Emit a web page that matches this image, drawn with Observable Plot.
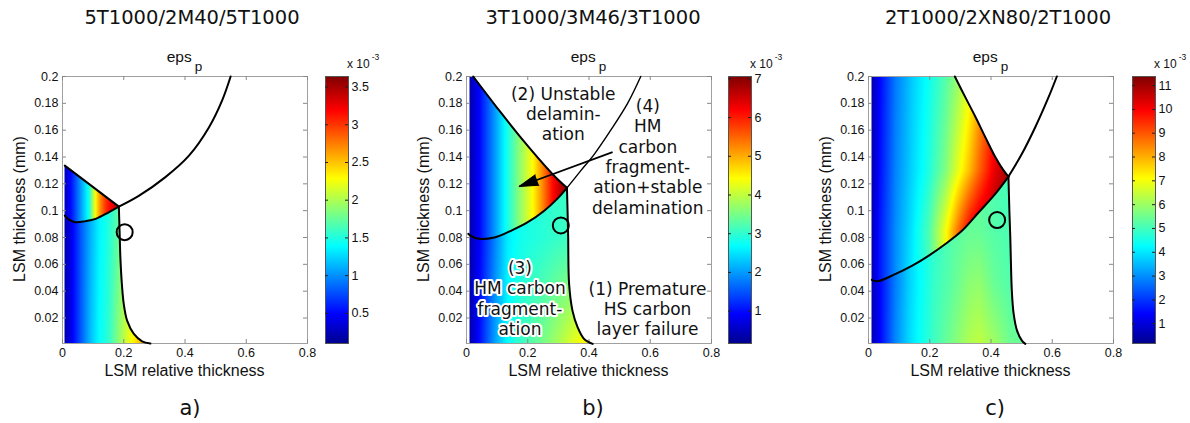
<!DOCTYPE html>
<html><head><meta charset="utf-8">
<script src="https://cdn.jsdelivr.net/npm/d3@7"></script>
<script src="https://cdn.jsdelivr.net/npm/@observablehq/plot@0.6"></script>
<style>
body{margin:0;background:#fff;}
#root{position:relative;width:1190px;height:423px;overflow:hidden;background:#fff;}
.abs{position:absolute;white-space:nowrap;line-height:1;}
.title{font-family:"DejaVu Sans";font-size:19.5px;color:#111;transform:translate(-50%,-50%);}
.letter{font-family:"DejaVu Sans";font-size:21px;color:#111;transform:translate(-50%,-50%);}
.eps{font-family:"Liberation Sans",Arial;font-size:15.5px;color:#111;transform:translate(-50%,-50%);}
.xlab{font-family:"Liberation Sans",Arial;font-size:16px;color:#111;transform:translate(-50%,-50%);}
.ylab{font-family:"Liberation Sans",Arial;font-size:16px;color:#111;transform:translate(-50%,-50%) rotate(-90deg);}
.exp{font-family:"Liberation Sans",Arial;font-size:12px;color:#111;}
.svgbox svg{max-width:none;background:transparent;}
</style></head>
<body><div id="root"></div>
<script>
// ---------- shared tick values & texts ----------
const xTicks = [0, 0.2, 0.4, 0.6, 0.8];
const yTicks = [0.02, 0.04, 0.06, 0.08, 0.1, 0.12, 0.14, 0.16, 0.18, 0.2];
const titles = ["5T1000/2M40/5T1000", "3T1000/3M46/3T1000", "2T1000/2XN80/2T1000"];
const letters = ["a)", "b)", "c)"];
const xLabel = "LSM relative thickness";
const yLabel = "LSM thickness (mm)";

// ---------- colorbars (units of 1e-3) ----------
const aCbDomain = [0.10, 3.64];
const aCbTicks = [0.5, 1, 1.5, 2, 2.5, 3, 3.5];
const bCbDomain = [0.165, 7.06];
const bCbTicks = [1, 2, 3, 4, 5, 6, 7];
const cCbDomain = [0.17, 11.38];
const cCbTicks = [1, 2, 3, 4, 5, 6, 7, 8, 9, 10, 11];

// ---------- panel a boundaries ----------
const aUL = [[0.0075, 0.1336], [0.184, 0.103]];
const aIC = [[0.0075, 0.0963], [0.02, 0.0935], [0.042, 0.0914], [0.075, 0.0922], [0.108, 0.0939], [0.151, 0.0988], [0.184, 0.103]];
const aRB = [[0.184, 0.103], [0.187, 0.08], [0.189, 0.065], [0.194, 0.045], [0.2, 0.0305], [0.211, 0.018], [0.233, 0.0081], [0.26, 0.0026], [0.287, 0.001]];
const aUR = [[0.184, 0.103], [0.249, 0.111], [0.336, 0.125], [0.413, 0.141], [0.478, 0.162], [0.521, 0.182], [0.549, 0.2]];
const aCircle = [[0.203, 0.084]];
// panel a field
const aUpperX = [0.0075, 0.032, 0.064, 0.086, 0.097, 0.108, 0.124, 0.14, 0.157, 0.173, 0.185];
const aUpperV = [0.25, 0.6, 1.1, 1.45, 1.9, 2.3, 2.7, 3.0, 3.2, 3.35, 3.45];
const aLowerX = [0.0075, 0.03, 0.06, 0.09, 0.12, 0.15, 0.18, 0.21, 0.24, 0.27, 0.29];
const aLowerY = [0.001, 0.1];
const aLowerV = [
  [0.2, 0.45, 0.8, 1.15, 1.4, 1.55, 1.85, 2.15, 2.4, 2.65, 2.8],
  [0.2, 0.45, 0.8, 1.1, 1.35, 1.5, 1.7, 1.9, 2.1, 2.3, 2.4]
];

// ---------- panel b boundaries ----------
const bUL = [[0.022, 0.2], [0.1, 0.1767], [0.187, 0.1518], [0.282, 0.127], [0.328, 0.117]];
const bIC = [[0.006, 0.0827], [0.02, 0.0805], [0.042, 0.079], [0.091, 0.080], [0.145, 0.085], [0.2, 0.0914], [0.254, 0.100], [0.297, 0.109], [0.328, 0.117]];
const bRB = [[0.328, 0.117], [0.33, 0.1], [0.332, 0.08], [0.335, 0.0454], [0.346, 0.0255], [0.363, 0.013], [0.384, 0.0044], [0.412, 0.0007]];
const bUR = [[0.328, 0.117], [0.374, 0.13], [0.417, 0.142], [0.471, 0.16], [0.526, 0.18], [0.569, 0.2]];
const bCircle = [[0.308, 0.089]];
// panel b field
const bUpperX = [0.0093, 0.04, 0.084, 0.127, 0.171, 0.215, 0.247, 0.28, 0.31, 0.33];
const bUpperV = [0.35, 0.9, 1.8, 2.7, 3.6, 4.4, 5.2, 6.1, 6.7, 6.9];
const bLowerX = [0.0093, 0.047, 0.091, 0.134, 0.167, 0.2, 0.25, 0.3, 0.35, 0.41];
const bLowerY = [0.001, 0.08];
const bLowerV = [
  [0.35, 1.1, 2.0, 2.7, 3.0, 3.2, 3.5, 3.85, 4.25, 4.6],
  [0.35, 1.0, 1.8, 2.55, 2.75, 2.85, 2.95, 3.05, 3.1, 3.15]
];
// panel b annotations
const bNotes = [
  {x: 0.316, y: 0.1724, text: "(2) Unstable\ndelamin-\nation"},
  {x: 0.592, y: 0.1406, text: "(4)\nHM\ncarbon\nfragment-\nation+stable\ndelamination"},
  {x: 0.591, y: 0.0271, text: "(1) Premature\nHS carbon\nlayer failure"}
];
const bHaloNotes = [
  {x: 0.1745, y: 0.035, text: "(3)\nHM carbon\nfragment-\nation"}
];
const bArrow = [{x1: 0.477, y1: 0.1436, x2: 0.172, y2: 0.118}];

// ---------- panel c boundaries ----------
const cUL = [[0.282, 0.2], [0.316, 0.1846], [0.349, 0.170], [0.381, 0.155], [0.414, 0.14], [0.441, 0.130], [0.457, 0.1254]];
const cIC = [[0.011, 0.0484], [0.029, 0.0474], [0.089, 0.0529], [0.143, 0.059], [0.197, 0.0665], [0.251, 0.0752], [0.306, 0.0852], [0.36, 0.0988], [0.414, 0.1125], [0.457, 0.1254]];
const cRB = [[0.457, 0.1254], [0.46, 0.1], [0.463, 0.08], [0.468, 0.0404], [0.474, 0.023], [0.485, 0.0106], [0.501, 0.0031], [0.512, 0.0007]];
const cUR = [[0.457, 0.1254], [0.501, 0.1424], [0.544, 0.162], [0.588, 0.1846], [0.615, 0.2]];
const cCircle = [[0.42, 0.093]];
// panel c field
const cUpperX = [0.011, 0.035, 0.089, 0.143, 0.197, 0.252, 0.295, 0.328, 0.36, 0.393, 0.415, 0.46];
const cUpperY = [0.05, 0.085, 0.13, 0.2];
const cUpperV = [
  [0.6, 1.6, 3.0, 4.1, 5.0, 7.0, 8.8, 10.0, 10.6, 10.9, 11.1, 11.3],
  [0.55, 1.6, 3.0, 4.0, 5.1, 7.0, 8.8, 10.0, 10.6, 10.9, 11.0, 11.2],
  [0.5, 1.5, 2.9, 3.8, 4.6, 5.7, 6.9, 7.8, 8.8, 9.7, 10.3, 11.0],
  [0.5, 1.4, 2.8, 3.7, 4.4, 5.2, 6.0, 6.8, 7.8, 8.8, 9.5, 10.6]
];
const cLowerX = [0.011, 0.043, 0.087, 0.13, 0.163, 0.218, 0.272, 0.327, 0.36, 0.414, 0.46, 0.51];
const cLowerY = [0.001, 0.046, 0.085, 0.13];
const cLowerV = [
  [0.6, 1.6, 2.9, 3.8, 4.3, 5.0, 5.6, 6.2, 6.4, 6.0, 5.5, 5.4],
  [0.6, 1.6, 2.8, 3.7, 4.2, 4.9, 5.3, 5.8, 5.9, 5.4, 5.2, 5.1],
  [0.6, 1.6, 2.8, 3.7, 4.2, 4.8, 5.2, 5.4, 5.4, 5.2, 5.1, 5.0],
  [0.6, 1.6, 2.8, 3.7, 4.2, 4.8, 5.2, 5.3, 5.3, 5.1, 5.0, 5.0]
];

// ---------- jet colormap ----------
const jetStops = [0, 0.111, 0.365, 0.619, 0.873, 1];
const jetColors = ["#00008f", "#0000ff", "#00ffff", "#ffff00", "#ff0000", "#800000"];
const jet = d3.scaleLinear().domain(jetStops).range(jetColors).interpolate(d3.interpolateRgb).clamp(true);
const jetFn = t => jet(t);

// ---------- helpers ----------
function interp1(xs, vs, x) {
  const n = xs.length;
  if (x <= xs[0]) return vs[0];
  if (x >= xs[n - 1]) return vs[n - 1];
  let i = 1; while (xs[i] < x) i++;
  const t = (x - xs[i - 1]) / (xs[i] - xs[i - 1]);
  return vs[i - 1] + t * (vs[i] - vs[i - 1]);
}
function gridVal(g, x, y) {
  const rows = g.V.map(r => interp1(g.xs, r, x));
  if (g.ys.length === 1) return rows[0];
  return interp1(g.ys, rows, y);
}
function curveFn(points, byY) {
  const pts = points.slice().sort((p, q) => byY ? p[1] - q[1] : p[0] - q[0]);
  const ks = pts.map(p => byY ? p[1] : p[0]);
  const vs = pts.map(p => byY ? p[0] : p[1]);
  return {ks, vs, f: t => interp1(ks, vs, t)};
}
function makeField(p) {
  const ul = curveFn(p.UL, false), ic = curveFn(p.IC, false), rb = curveFn(p.RB, true);
  const xJ = p.RB[0][0], yJ = p.RB[0][1];
  return (x, y) => {
    if (x < p.x0) return NaN;
    if (y < yJ) {
      if (x > rb.f(y)) return NaN;
    } else {
      if (x > xJ) return NaN;
      if (x >= ul.ks[0] && y > ul.f(x)) return NaN;
    }
    const upper = y > ic.f(x);
    return gridVal(upper ? p.upper : p.lower, x, y);
  };
}

const panels = [
  {FL: 62, CL: 325, titleX: 192, letterX: 190, x0: 0.0075, UL: aUL, IC: aIC, RB: aRB, UR: aUR, circle: aCircle, urWidth: 2,
   upper: {xs: aUpperX, ys: [0.1], V: [aUpperV]}, lower: {xs: aLowerX, ys: aLowerY, V: aLowerV}, cbDomain: aCbDomain, cbTicks: aCbTicks},
  {FL: 466, CL: 728, titleX: 593, letterX: 593, x0: 0.0093, UL: bUL, IC: bIC, RB: bRB, UR: bUR, circle: bCircle, urWidth: 1.4,
   upper: {xs: bUpperX, ys: [0.1], V: [bUpperV]}, lower: {xs: bLowerX, ys: bLowerY, V: bLowerV}, cbDomain: bCbDomain, cbTicks: bCbTicks, notes: true},
  {FL: 868, CL: 1132, titleX: 998, letterX: 995, x0: 0.011, UL: cUL, IC: cIC, RB: cRB, UR: cUR, circle: cCircle, urWidth: 2,
   upper: {xs: cUpperX, ys: cUpperY, V: cUpperV}, lower: {xs: cLowerX, ys: cLowerY, V: cLowerV}, cbDomain: cCbDomain, cbTicks: cCbTicks}
];

const root = document.getElementById("root");
function place(cls, html, x, y) {
  const d = document.createElement("div");
  d.className = "abs " + cls;
  d.style.left = x + "px"; d.style.top = y + "px";
  d.innerHTML = html;
  root.appendChild(d);
  return d;
}
function placeSvg(svg, x, y) {
  const d = document.createElement("div");
  d.className = "abs svgbox";
  d.style.left = x + "px"; d.style.top = y + "px";
  d.appendChild(svg);
  root.appendChild(d);
}

const FW = 245, FH = 267, ML = 62, MT = 76, MB = 40, MR = 10;
const fmt = d => String(d);
const px = d => d[0], py = d => d[1];
const baseStyle = {fontFamily: "'Liberation Sans', Arial, sans-serif", fontSize: "12.5px", color: "#111", background: "transparent", maxWidth: "none"};

panels.forEach((p, k) => {
  const colorOpts = {type: "linear", domain: p.cbDomain, interpolate: jetFn};
  const lineOpts = {x: px, y: py, stroke: "black", strokeWidth: 2, curve: "catmull-rom"};
  const marks = [
    Plot.raster({x1: 0, x2: 0.8, y1: 0.001, y2: 0.2, fill: makeField(p), pixelSize: 1}),
    Plot.frame({stroke: "#a0a0a0"}),
    Plot.tickX(xTicks, {insetTop: FH - 4, stroke: "#888"}),
    Plot.tickX(xTicks, {insetBottom: FH - 4, stroke: "#888"}),
    Plot.tickY(yTicks, {insetRight: FW - 4, stroke: "#888"}),
    Plot.tickY(yTicks, {insetLeft: FW - 4, stroke: "#888"}),
    Plot.axisX({ticks: xTicks, tickSize: 0, tickPadding: 5, tickFormat: fmt, label: null}),
    Plot.axisY({ticks: yTicks, tickSize: 0, tickPadding: 4, tickFormat: fmt, label: null}),
    Plot.line(p.UL, lineOpts),
    Plot.line(p.IC, lineOpts),
    Plot.line(p.RB, lineOpts),
    Plot.line(p.UR, {...lineOpts, strokeWidth: p.urWidth}),
    Plot.dot(p.circle, {x: px, y: py, r: 8, stroke: "black", strokeWidth: 2, fill: "none"})
  ];
  if (p.notes) {
    marks.push(
      Plot.link(bArrow, {x1: "x1", y1: "y1", x2: "x2", y2: "y2", stroke: "black", strokeWidth: 1.8}),
      Plot.vector(bArrow, {x: "x2", y: "y2", rotate: 250, length: 19, r: 5.5, shape: "spike", anchor: "end", fill: "black", stroke: "black", strokeWidth: 1}),
      Plot.text(bNotes, {x: "x", y: "y", text: "text", fontSize: 17, fontFamily: "DejaVu Sans", lineHeight: 1.2, fill: "#111"}),
      Plot.text(bHaloNotes, {x: "x", y: "y", text: "text", fontSize: 17, fontFamily: "DejaVu Sans", lineHeight: 1.2, fill: "#111", stroke: "white", strokeWidth: 4, paintOrder: "stroke"})
    );
  }
  const main = Plot.plot({
    width: ML + FW + MR, height: MT + FH + MB,
    marginLeft: ML, marginRight: MR, marginTop: MT, marginBottom: MB,
    x: {domain: [0, 0.8], label: null},
    y: {domain: [0.001, 0.2], label: null},
    color: colorOpts,
    style: baseStyle,
    marks
  });
  placeSvg(main, p.FL - ML, 0);

  const cb = Plot.plot({
    width: 10 + 23 + 45, height: MT + FH + MB,
    marginLeft: 10, marginRight: 45, marginTop: MT, marginBottom: MB,
    x: {domain: [0, 1], axis: null},
    y: {domain: p.cbDomain, label: null},
    color: colorOpts,
    style: baseStyle,
    marks: [
      Plot.raster({x1: 0, x2: 1, y1: p.cbDomain[0], y2: p.cbDomain[1], fill: (x, y) => y, pixelSize: 1}),
      Plot.frame({stroke: "#555"}),
      Plot.tickY(p.cbTicks, {insetRight: 20, stroke: "#222"}),
      Plot.tickY(p.cbTicks, {insetLeft: 20, stroke: "#222"}),
      Plot.axisY({anchor: "right", ticks: p.cbTicks, tickSize: 0, tickPadding: 3, tickFormat: fmt, label: null})
    ]
  });
  placeSvg(cb, p.CL - 10, 0);

  const fc = p.FL + FW / 2;
  place("title", titles[k], p.titleX, 18);
  place("letter", letters[k], p.letterX, 408);
  place("eps", 'eps<span style="position:relative;top:9px;font-size:13.5px;margin-left:3px">p</span>', fc, 57);
  place("xlab", xLabel, fc, 371);
  place("ylab", yLabel, p.FL - 42, 209);
  place("exp", 'x 10<span style="position:relative;top:-8px;font-size:8.5px;margin-left:2px">-3</span>', p.CL + 22, 58);
});
</script></body></html>
